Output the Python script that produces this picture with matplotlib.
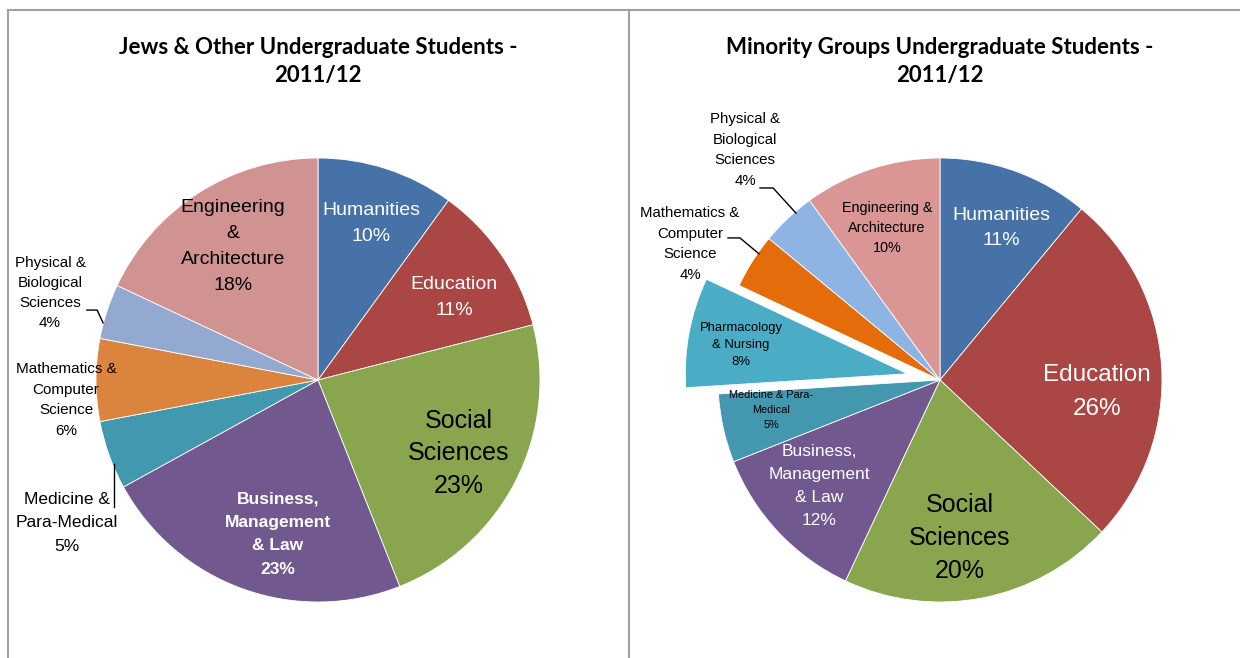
import matplotlib
matplotlib.use("Agg")
import matplotlib.pyplot as plt
from matplotlib.lines import Line2D

# Data
left_title = "Jews & Other Undergraduate Students -\n2011/12"
left_labels = ["Humanities", "Education", "Social\nSciences", "Business,\nManagement\n& Law",
               "Medicine &\nPara-Medical", "Mathematics &\nComputer\nScience",
               "Physical &\nBiological\nSciences", "Engineering\n&\nArchitecture"]
left_values = [10, 11, 23, 23, 5, 6, 4, 18]

right_title = "Minority Groups Undergraduate Students -\n2011/12"
right_labels = ["Humanities", "Education", "Social\nSciences", "Business,\nManagement\n& Law",
                "Medicine & Para-\nMedical", "Pharmacology\n& Nursing", "Mathematics &\nComputer\nScience",
                "Physical &\nBiological\nSciences", "Engineering &\nArchitecture"]
right_values = [11, 26, 20, 12, 5, 8, 4, 4, 10]

# Styles
left_colours = ["#4672A8", "#AA4644", "#89A54E", "#71588F", "#4198AF", "#DB843D", "#93A9CF", "#D19392"]
right_colours = ["#4672A8", "#AA4644", "#89A54E", "#71588F", "#4397AF", "#4BACC6", "#E46C0A", "#8EB4E3", "#D99694"]
right_explode = [0, 0, 0, 0, 0, 0.15, 0, 0, 0]

# label (x, y) in pie-radius units, size, colour, weight, line spacing
left_text = [
    ((0.24, 0.705), 14, "white", "normal", 1.69),
    ((0.613, 0.37), 14, "white", "normal", 1.69),
    ((0.635, -0.33), 18, "black", "normal", 1.45),
    ((-0.18, -0.694), 12.5, "white", "bold", 1.7),
    ((-1.131, -0.644), 12.5, "black", "normal", 1.72),
    ((-1.135, -0.09), 11, "black", "normal", 1.62),
    ((-1.207, 0.392), 11, "black", "normal", 1.57),
    ((-0.383, 0.6), 14, "black", "normal", 1.69),
]
right_text = [
    ((0.275, 0.685), 14, "white", "normal", 1.6),
    ((0.707, -0.054), 17.5, "white", "normal", 1.68),
    ((0.09, -0.712), 18, "black", "normal", 1.49),
    ((-0.545, -0.477), 12.5, "white", "normal", 1.67),
    ((-0.761, -0.135), 7.8, "black", "normal", 1.6),
    ((-0.896, 0.158), 9.4, "black", "normal", 1.6),
    ((-1.126, 0.613), 10.8, "black", "normal", 1.6),
    ((-0.878, 1.036), 10.8, "black", "normal", 1.6),
    ((-0.239, 0.685), 10.4, "black", "normal", 1.54),
]
left_leaders = [[(-1.041, 0.315), (-0.995, 0.315), (-0.968, 0.257)],
                [(-0.919, -0.572), (-0.919, -0.378)]]
right_leaders = [[(-0.811, 0.865), (-0.752, 0.865), (-0.649, 0.752)],
                 [(-0.955, 0.640), (-0.901, 0.640), (-0.815, 0.568)]]

W, H = 1240, 658
R = 222
LABEL_FONT = "Liberation Sans"


def draw_pie(ax, cx, x0, x1, values, labels, colours, text, leaders, title, explode=None):
    ax.pie(values, colors=colours, startangle=90, counterclock=False, radius=1,
           explode=explode, wedgeprops=dict(edgecolor="white", linewidth=0.6))
    ax.set_aspect("auto")
    ax.set_xlim(-(cx - x0) / R, (x1 - cx) / R)
    ax.set_ylim(-(H - 380) / R, 380 / R)
    ax.axis("off")
    for lab, val, (pos, size, col, weight, ls) in zip(labels, values, text):
        ax.text(pos[0], pos[1], f"{lab}\n{val}%", ha="center", va="center", fontsize=size,
                color=col, fontweight=weight, family=LABEL_FONT, linespacing=ls)
    for pts in leaders:
        xs, ys = zip(*pts)
        ax.plot(xs, ys, color="black", linewidth=1)
    ax.text(0, (380 - 61.5) / R, title, ha="center", va="center", fontsize=16,
            fontweight="bold", family="Lato", linespacing=1.45)


fig = plt.figure(figsize=(W / 100, H / 100), dpi=100)

ax1 = fig.add_axes([0, 0, 620 / W, 1])
draw_pie(ax1, 318, 0, 620, left_values, left_labels, left_colours, left_text, left_leaders, left_title)

ax2 = fig.add_axes([620 / W, 0, 620 / W, 1])
draw_pie(ax2, 940, 620, 1240, right_values, right_labels, right_colours, right_text, right_leaders,
         right_title, explode=right_explode)

# Panel borders
border = "#A0A0A0"
fig.add_artist(Line2D([8 / W, 1], [1 - 10 / H, 1 - 10 / H], color=border, linewidth=1.5))
fig.add_artist(Line2D([8 / W, 8 / W], [0, 1 - 10 / H], color=border, linewidth=1.5))
fig.add_artist(Line2D([629 / W, 629 / W], [0, 1 - 10 / H], color=border, linewidth=1.5))

fig.savefig("out.png", dpi=100)
